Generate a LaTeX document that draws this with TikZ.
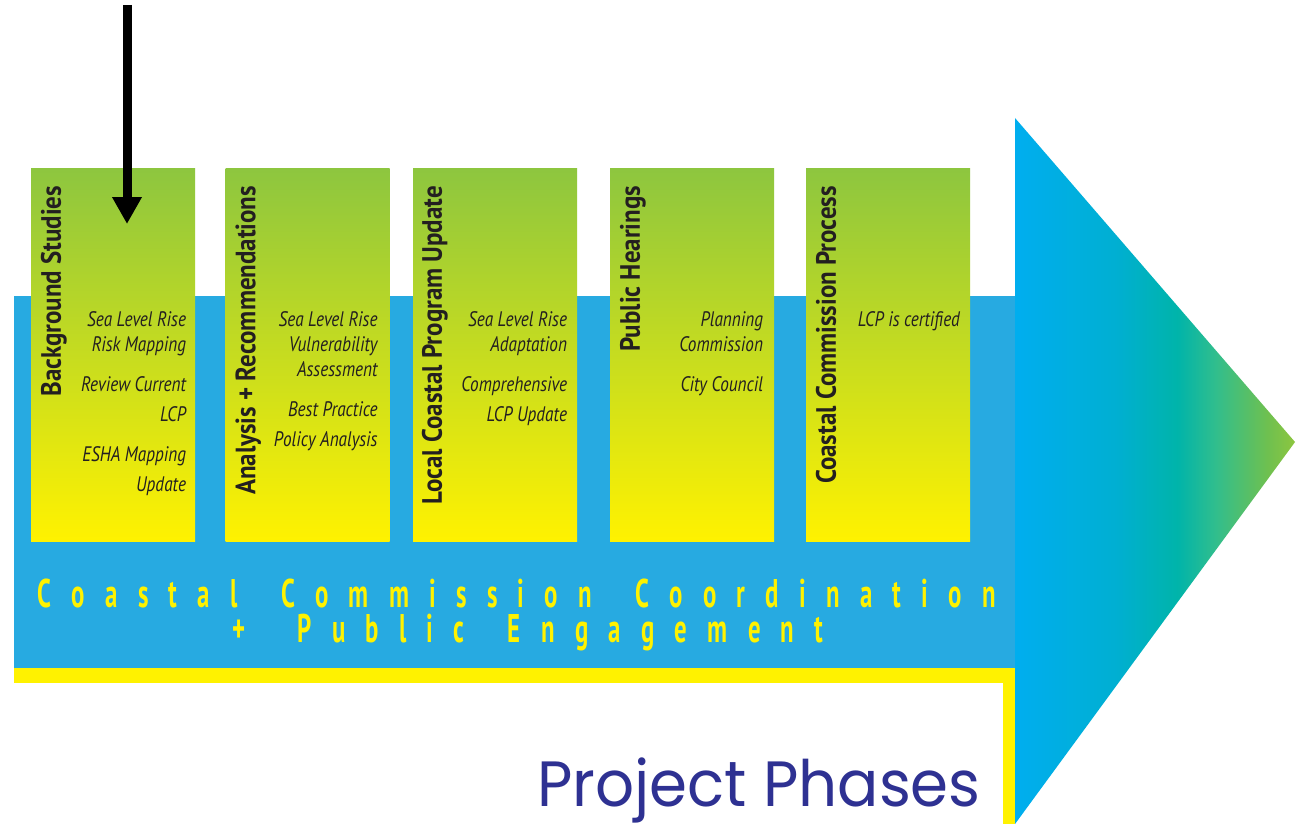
\documentclass[tikz,border=0pt]{standalone}
\usepackage{fontspec}
\setmainfont{PT Sans}
\newfontfamily\titlefont{PT Sans}[FakeStretch=0.89]
\newfontfamily\itemfont{PT Sans}[FakeStretch=0.82]
\newfontfamily\bandfont{PT Sans}[FakeStretch=0.62]
\newfontfamily\phasefont{Poppins}[FakeStretch=0.955]
\usepackage{tikz}
\usetikzlibrary{arrows.meta,calc}

\definecolor{bandblue}{RGB}{39,170,225}
\definecolor{tipblue}{RGB}{0,174,239}
\definecolor{tipsky}{RGB}{0,175,210}
\definecolor{tipteal}{RGB}{0,180,170}
\definecolor{tipsea}{RGB}{50,190,140}
\definecolor{tiplime}{RGB}{110,192,80}
\definecolor{phasegreen}{RGB}{141,198,63}
\definecolor{phaseyellow}{RGB}{255,242,0}
\definecolor{phasenavy}{RGB}{46,49,146}
\definecolor{phasetext}{RGB}{35,31,32}

\pgfdeclarehorizontalshading{tipshade}{100bp}{color(0bp)=(tipblue); color(25bp)=(tipblue); color(43bp)=(tipsky); color(54bp)=(tipteal); color(61bp)=(tipsea); color(70bp)=(tiplime); color(75bp)=(phasegreen); color(100bp)=(phasegreen)}

% wide letter spacing for the band text
\newcommand\spreadword[1]{\spreadloop#1\relax}
\def\spreadloop#1{\ifx\relax#1\else#1\kern20.3pt\expandafter\spreadloop\fi}

\tikzset{
  phase/.style={minimum width=164pt, minimum height=373pt, inner sep=0pt,
    top color=phasegreen, bottom color=phaseyellow},
  phasetitle/.style={rotate=90, anchor=base east, inner sep=0pt, text=phasetext,
    font=\titlefont\bfseries\fontsize{28}{32}\selectfont},
  phaseitems/.style={anchor=north east, inner sep=0pt, align=right, text=phasetext,
    font=\itemfont\itshape\fontsize{21}{25}\selectfont},
}

\begin{document}
\begin{tikzpicture}[x=1pt,y=-1pt]
\useasboundingbox (0,0) rectangle (1306,824);
\fill[white] (0,0) rectangle (1306,824);
% band, strips and arrow head
\fill[bandblue] (14,296) rectangle (1015,668);
\fill[phaseyellow] (14,668) rectangle (1015,683);
\fill[phaseyellow] (1003,683) rectangle (1015,824);
\shade[shading=tipshade] (1015,118) -- (1295,442) -- (1015,824) -- cycle;
% phases
\node[phase] (b1) at (113,354.5) {};
\node[phase] (b2) at (307.5,354.5) {};
\node[phase] (b3) at (495,354.5) {};
\node[phase] (b4) at (692,354.5) {};
\node[phase] (b5) at (888,354.5) {};
\node[phasetitle] (t1) at ($(b1.north west)+(30,18)$) {Background Studies};
\node[phasetitle] (t2) at ($(b2.north west)+(30,18)$) {Analysis + Recommendations};
\node[phasetitle] (t3) at ($(b3.north west)+(29,18)$) {Local Coastal Program Update};
\node[phasetitle] (t4) at ($(b4.north west)+(30,18)$) {Public Hearings};
\node[phasetitle] (t5) at ($(b5.north west)+(30,18)$) {Coastal Commission Process};
\node[phaseitems] (i1) at ($(b1.north east)+(-9,144)$)
  {Sea Level Rise\\Risk Mapping\\[15pt]Review Current\\[5pt]LCP\\[15pt]ESHA Mapping\\[5pt]Update};
\node[phaseitems] (i2) at ($(b2.north east)+(-12,144)$)
  {Sea Level Rise\\Vulnerability\\Assessment\\[15pt]Best Practice\\[5pt]Policy Analysis};
\node[phaseitems] (i3) at ($(b3.north east)+(-10,144)$)
  {Sea Level Rise\\Adaptation\\[15pt]Comprehensive\\[5pt]LCP Update};
\node[phaseitems] (i4) at ($(b4.north east)+(-11,144)$)
  {Planning\\Commission\\[15pt]City Council};
\node[phaseitems] (i5) at ($(b5.north east)+(-10,144)$) {LCP is certified};
% coordination text
\node[anchor=base, align=center, inner sep=0pt, text=phaseyellow,
  font=\bandfont\bfseries\fontsize{40}{35}\selectfont] (coord) at (527,642)
  {\spreadword{Coastal}\hspace{23pt}\spreadword{Commission}\hspace{23pt}\spreadword{Coordination}\\
   \hspace*{22pt}\spreadword{+}\hspace{32pt}\spreadword{Public}\hspace{23pt}\spreadword{Engagement}};
\node[anchor=base east, inner sep=0pt, text=phasenavy,
  font=\phasefont\fontsize{64}{70}\selectfont] (phases) at (981,806) {Project Phases};
% pointer
\coordinate (ptop) at (127,5);
\coordinate (ptip) at (127,224);
\draw[line width=9pt, -{Triangle[width=28pt,length=27pt]}] (ptop) -- (ptip);
\end{tikzpicture}
\end{document}
